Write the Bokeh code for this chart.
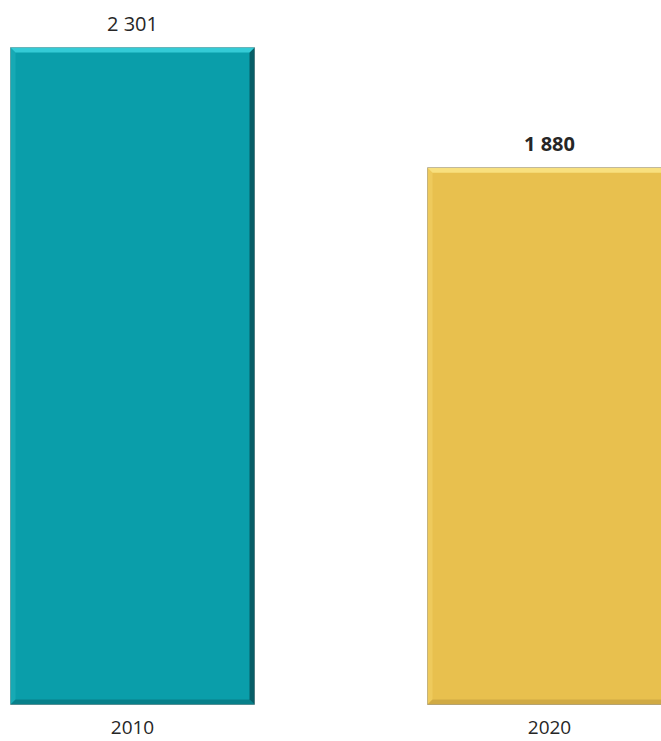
from bokeh.plotting import figure
from bokeh.models import Range1d, ColumnDataSource
from bokeh.core.properties import value
from bokeh.embed import file_html
from bokeh.resources import INLINE

# ---- data ----
years = ["2010", "2020"]
counts = [2301, 1880]
labels = ["2 301", "1 880"]
label_weights = ["normal", "bold"]

# ---- styles ----
main_colors = ["#0A9EAA", "#E8C04E"]
top_colors = ["#34CBD6", "#F8E07E"]
left_colors = ["#17A9B4", "#EECA5C"]
right_colors = ["#075E67", "#C49C36"]
bottom_colors = ["#08808A", "#D0AA44"]

W, H = 661, 741
x_px = 417.0            # pixels per category step
first_center_px = 132.0
y_base_px = 704.0       # canvas y of value 0 (from top)
y_px = 657.0 / 2301.0   # pixels per unit
bar_w = 244.0 / x_px
bev = 5.0

x_start = -first_center_px / x_px
x_end = (W - first_center_px) / x_px
y_end = y_base_px / y_px
y_start = -(H - y_base_px) / y_px

p = figure(width=W, height=H, output_backend="svg", toolbar_location=None,
           x_range=Range1d(x_start, x_end), y_range=Range1d(y_start, y_end),
           min_border=0)
p.axis.visible = False
p.grid.visible = False
p.outline_line_color = None
p.background_fill_color = "white"

xs = list(range(len(years)))
dx = bev / x_px
dy = bev / y_px

p.vbar(x=xs, top=counts, bottom=0, width=bar_w, fill_color=main_colors,
       line_color="#9C9C9C", line_width=1)

top_p, right_p, bottom_p, left_p = [], [], [], []
for i, v in zip(xs, counts):
    x0, x1 = i - bar_w / 2, i + bar_w / 2
    y0, y1 = 0, v
    top_p.append(([x0, x1, x1 - dx, x0 + dx], [y1, y1, y1 - dy, y1 - dy]))
    right_p.append(([x1, x1, x1 - dx, x1 - dx], [y1, y0, y0 + dy, y1 - dy]))
    bottom_p.append(([x0, x1, x1 - dx, x0 + dx], [y0, y0, y0 + dy, y0 + dy]))
    left_p.append(([x0, x0, x0 + dx, x0 + dx], [y0, y1, y1 - dy, y0 + dy]))

for polys, cols in [(left_p, left_colors), (bottom_p, bottom_colors),
                    (right_p, right_colors), (top_p, top_colors)]:
    p.patches(xs=[a for a, b in polys], ys=[b for a, b in polys],
              fill_color=cols, line_color=None)

src = ColumnDataSource(dict(x=xs, y=counts, t=labels, w=label_weights, yr=years,
                            z=[0] * len(xs)))
p.text(x="x", y="y", text="t", source=src, y_offset=-24,
       text_align="center", text_baseline="middle",
       text_font=value("Open Sans"), text_font_size="20px",
       text_font_style="w", text_color="#262626")
p.text(x="x", y="z", text="yr", source=src, y_offset=23,
       text_align="center", text_baseline="middle",
       text_font=value("Open Sans"), text_font_size="19px",
       text_color="#262626")

open("out.html", "w").write(file_html(p, INLINE))
